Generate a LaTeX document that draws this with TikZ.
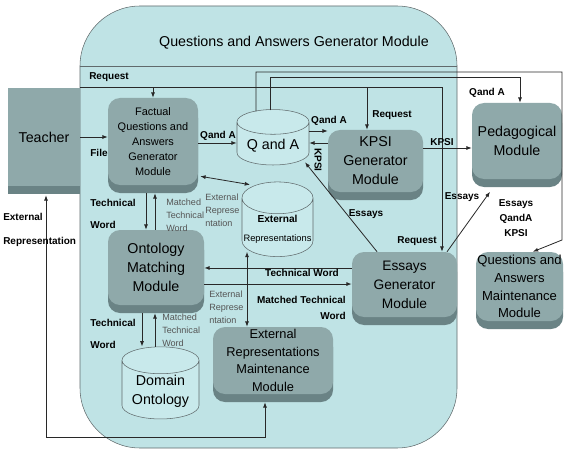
\documentclass[tikz,border=0pt]{standalone}
\usepackage{fontspec}
\setmainfont{Liberation Sans}
\usetikzlibrary{positioning, calc, shadows, shapes.geometric, arrows.meta}
\definecolor{qabg}{RGB}{191,227,229}
\definecolor{modfill}{RGB}{143,169,170}
\definecolor{modbevel}{RGB}{106,131,133}
\definecolor{cylfill}{RGB}{200,233,235}
\definecolor{cyldraw}{RGB}{96,106,108}
\definecolor{lblgray}{RGB}{85,85,85}
\definecolor{wiregray}{RGB}{40,40,40}

\tikzset{
  module/.style={rectangle, rounded corners=9pt, fill=modfill, align=center, inner sep=1pt,
    general shadow={fill=modbevel, shadow yshift=-6pt},
    font=\fontsize{10.7}{14.3}\selectfont},
  store/.style={cylinder, shape border rotate=90, aspect=0.45, draw=cyldraw, fill=cylfill,
    align=center, inner sep=1pt, font=\fontsize{10.7}{14.3}\selectfont},
  wire/.style={draw=wiregray, line width=0.6pt, -{Latex[length=4pt,width=3pt]}},
  wire2/.style={wire, {Latex[length=4pt,width=3pt]}-{Latex[length=4pt,width=3pt]}},
  lbl/.style={inner sep=0pt, font=\bfseries\fontsize{7.5}{9}\selectfont},
  widelbl/.style={lbl, align=left, font=\bfseries\fontsize{7.5}{16.5}\selectfont},
  graylbl/.style={text=lblgray, align=left, inner sep=0pt, font=\fontsize{6.8}{9.75}\selectfont},
}

\begin{document}
\begin{tikzpicture}[x=0.75pt, y=-0.75pt]
  \useasboundingbox (0,0) rectangle (570,456);
  \fill[white] (0,0) rectangle (570,456);

  % the big module
  \node[draw=cyldraw, fill=qabg, rounded corners=45pt, minimum width=282.75pt, minimum height=331.5pt, inner sep=0pt] (qagm) at (268.5,227) {};
  \node[font=\fontsize{10.7}{13}\selectfont] (qagmtitle) at (294,43) {Questions and Answers Generator Module};
  \draw[cyldraw] (qagm.west |- 0,66) -- (qagm.east |- 0,66);

  % modules
  \node[module, sharp corners, minimum width=54pt, minimum height=73.5pt] (teacher) at (44,137) {Teacher};
  \node[module, minimum width=67.5pt, minimum height=65.25pt, font=\fontsize{8.2}{11.25}\selectfont] (factual) at (153,141.5) {Factual\\Questions and\\Answers\\Generator\\Module};
  \node[module, minimum width=72pt, minimum height=56.25pt] (ontology) at (156,267.5) {Ontology\\Matching\\Module};
  \node[module, minimum width=71.25pt, minimum height=46.5pt] (kpsi) at (375.5,161) {KPSI\\Generator\\Module};
  \node[module, minimum width=67.5pt, minimum height=57pt] (pedagogical) at (517,141) {Pedagogical\\Module};
  \node[module, minimum width=78.75pt, minimum height=48.75pt, font=\fontsize{10.3}{14.3}\selectfont] (essays) at (404.5,284.5) {Essays\\Generator\\Module};
  \node[module, minimum width=65.25pt, minimum height=51.75pt, font=\fontsize{9.8}{13.3}\selectfont] (qamaint) at (519.5,286.5) {Questions and\\Answers\\Maintenance\\Module};
  \node[module, minimum width=90pt, minimum height=50.25pt, font=\fontsize{9.6}{13.1}\selectfont] (ermaint) at (273,360.5) {External\\Representations\\Maintenance\\Module};

  % stores
  \node[store, minimum width=54pt, minimum height=41.6pt] (qanda) at (273,145.25) {Q and A};
  \node[store, minimum width=53.25pt, minimum height=45.5pt] (extrep) at (277.5,229.5) {{\bfseries\fontsize{7.6}{11}\selectfont External}\\{\fontsize{7}{10}\selectfont Representations}};
  \node[store, minimum width=57.75pt, minimum height=46.9pt] (domain) at (160.5,391.5) {Domain\\Ontology};

  \coordinate (qarun) at (0,77);
  \coordinate (maintrun) at (562,72);
  \coordinate (maintturn) at (562,240);
  \coordinate (bottomrun) at (0,437);

  % connectors
  \draw[wire] (teacher.north east) -| ([xshift=28.1pt]essays.north);
  \draw[wire] (factual.north |- teacher.north) -- (factual.north);
  \draw[wire] ([xshift=-6.4pt]kpsi.north |- teacher.north) -- ([xshift=-6.4pt]kpsi.north);
  \draw[wire] (teacher.east) -- (teacher.east -| factual.west);
  \draw[wire] ([yshift=-1.1pt]factual.east) -- ([yshift=-1.1pt]factual.east -| qanda.west);
  \draw[wire] ([yshift=10.7pt]qanda.east) -- ([yshift=10.7pt]qanda.east -| kpsi.west);
  \draw[wire] ([yshift=13.5pt]kpsi.west) -- ([yshift=13.5pt]kpsi.west -| qanda.east);
  \draw[wire] ([yshift=9.75pt]kpsi.east) -- ([yshift=9.75pt]kpsi.east -| pedagogical.west);
  \draw[wire] ([xshift=-20.6pt]essays.north) -- ([xshift=24pt,yshift=2.25pt]qanda.south);
  \draw[wire] ([xshift=31.9pt]essays.north) -- ([xshift=-20.25pt,yshift=-9.4pt]pedagogical.south);
  \draw[wire2] ([xshift=1.5pt,yshift=6.75pt]factual.south east) -- ([xshift=-20.6pt,yshift=-2.25pt]extrep.north);
  \draw[wire] ([xshift=-5.25pt,yshift=-6pt]factual.south) -- ([xshift=-5.25pt]factual.south |- ontology.north);
  \draw[wire] ([xshift=-0.75pt]ontology.north) -- ([xshift=-0.75pt,yshift=-6pt]ontology.north |- factual.south);
  \draw[wire] ([yshift=12.4pt]essays.west) -- ([yshift=12.4pt]essays.west -| ontology.east);
  \draw[wire] ([yshift=-12.4pt]ontology.east) -- ([yshift=-12.4pt]ontology.east -| essays.west);
  \draw[wire2] ([xshift=-19.5pt,yshift=3.75pt]ermaint.north |- extrep.south) -- ([xshift=-19.5pt]ermaint.north);
  \draw[wire] ([xshift=-10.5pt,yshift=-6pt]ontology.south) -- ([xshift=-10.5pt]ontology.south |- domain.north);
  \draw[wire] ([xshift=-0.75pt]ontology.south |- domain.north) -- ([xshift=-0.75pt,yshift=-6pt]ontology.south);
  \draw[wire2] ([xshift=1.5pt,yshift=-6.75pt]teacher.south) -- ([xshift=1.5pt]teacher.south |- bottomrun) -| ([xshift=-6pt,yshift=-6pt]ermaint.south);
  \draw[wire] ([xshift=-2.25pt,yshift=-0.75pt]qanda.north) -- ([xshift=-2.25pt]qanda.north |- qarun) -| ([xshift=2.25pt]pedagogical.north);
  \draw[wire] ([xshift=-12.75pt,yshift=-1.5pt]qanda.north) -- ([xshift=-12.75pt]qanda.north |- maintrun) -- (maintrun) -- (maintturn) -- ([xshift=10pt]qamaint.north);

  % labels
  \node[lbl, anchor=west] (lblreqtop) at (89,77) {Request};
  \node[lbl] (lblfile) at (99,153) {File};
  \node[lbl] (lblqa1) at (218,136) {Qand A};
  \node[lbl] (lblqa2) at (329,121) {Qand A};
  \node[lbl, rotate=-90] (lblkpsi1) at (318,160) {KPSI};
  \node[lbl] (lblreqkpsi) at (392,115) {Request};
  \node[lbl] (lblkpsi2) at (442,142) {KPSI};
  \node[lbl] (lblqa3) at (487,93) {Qand A};
  \node[lbl] (lblessays1) at (366,214) {Essays};
  \node[lbl] (lblessays2) at (462,197) {Essays};
  \node[lbl, align=center, font=\bfseries\fontsize{7.5}{11.25}\selectfont] (lblmaint) at (516,218) {Essays\\QandA\\KPSI};
  \node[lbl] (lblreqess) at (417,241) {Request};
  \node[graylbl, anchor=west] (lblext1) at (205,210) {External\\Represe\\ntation};
  \node[widelbl, anchor=west] (lbltw1) at (90,214) {Technical\\Word};
  \node[graylbl, anchor=west] (lblmtw1) at (166,215) {Matched\\Technical\\Word};
  \node[lbl] (lbltw2) at (302,273) {Technical Word};
  \node[lbl, align=right, anchor=east, font=\bfseries\fontsize{7.5}{12}\selectfont] (lblmtw2) at (346,308) {Matched Technical\\Word};
  \node[graylbl, anchor=west] (lblext2) at (209,307) {External\\Represe\\ntation};
  \node[widelbl, anchor=west] (lbltw3) at (90,334) {Technical\\Word};
  \node[graylbl, anchor=west] (lblmtw3) at (162,330) {Matched\\Technical\\Word};
  \node[widelbl, anchor=west, font=\bfseries\fontsize{7.5}{18}\selectfont] (lblextrep) at (3,230) {External\\Representation};
\end{tikzpicture}
\end{document}
